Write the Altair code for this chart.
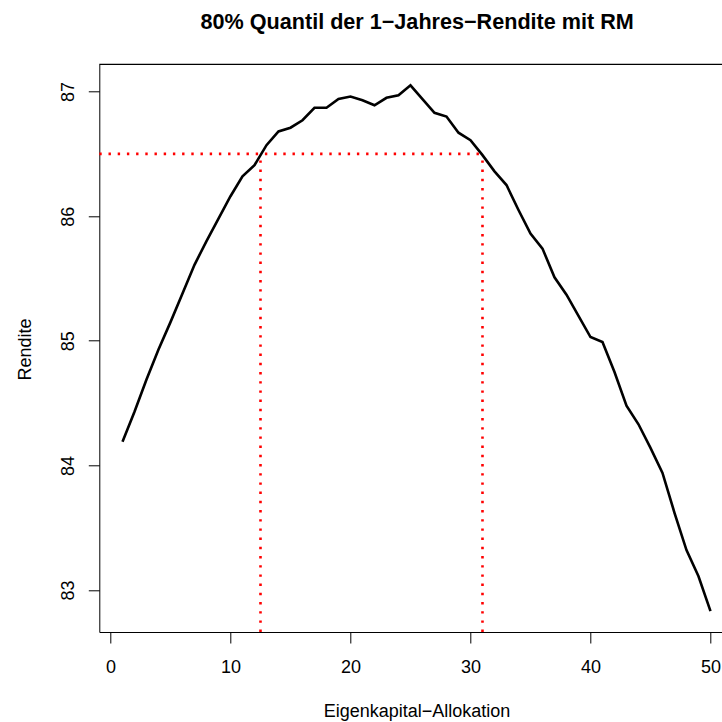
import altair as alt
import pandas as pd

# --- data ---
allocation = list(range(1, 51))
rendite = [84.19, 84.43, 84.69, 84.93, 85.15, 85.38, 85.61, 85.80, 85.98, 86.16,
           86.32, 86.41, 86.57, 86.68, 86.71, 86.77, 86.87, 86.87, 86.94, 86.96,
           86.93, 86.89, 86.95, 86.97, 87.05, 86.94, 86.83, 86.80, 86.67, 86.61,
           86.49, 86.36, 86.25, 86.05, 85.86, 85.74, 85.51, 85.37, 85.20, 85.03,
           84.99, 84.75, 84.48, 84.33, 84.14, 83.94, 83.62, 83.32, 83.11, 82.83]
threshold = [86.5]
crossings = [12.5, 31.0]
x_ticks = [0, 10, 20, 30, 40, 50]
y_ticks = [83, 84, 85, 86, 87]

X_DOMAIN = [-0.933, 50.96]
Y_DOMAIN = [82.663, 87.219]

FONT = "Liberation Sans"

df = pd.DataFrame({"x": allocation, "y": rendite})
h_df = pd.DataFrame({"x": [X_DOMAIN[0]], "x2": [max(crossings)], "y": threshold})
v_df = pd.DataFrame({"x": crossings, "y": [Y_DOMAIN[0]] * len(crossings),
                     "y2": threshold * len(crossings)})

xscale = alt.Scale(domain=X_DOMAIN, nice=False, zero=False)
yscale = alt.Scale(domain=Y_DOMAIN, nice=False, zero=False)

xaxis = alt.Axis(
    values=x_ticks, title="Eigenkapital\u2212Allokation", grid=False, format="d",
    tickSize=11, tickColor="#000", tickWidth=1,
    domainColor="#000", domainWidth=1,
    labelFont=FONT, labelFontSize=18, labelColor="#000",
    labelBaseline="alphabetic", labelPadding=29.5, labelAlign="center",
    titleFont=FONT, titleFontSize=18, titleFontWeight="normal", titleColor="#000",
    titleBaseline="alphabetic", titleAlign="center", titleX=317.2, titleY=84,
)
yaxis = alt.Axis(
    values=y_ticks, title="Rendite", grid=False, format="d",
    tickSize=11, tickColor="#000", tickWidth=1,
    domainColor="#000", domainWidth=1,
    labelFont=FONT, labelFontSize=18, labelColor="#000",
    labelAngle=270, labelAlign="center", labelBaseline="alphabetic", labelPadding=15,
    titleFont=FONT, titleFontSize=18, titleFontWeight="normal", titleColor="#000",
    titleAngle=270, titleBaseline="alphabetic", titleAlign="center",
    titleX=-69.3, titleY=284.7,
)

line = alt.Chart(df).mark_line(color="#000", strokeWidth=2.6).encode(
    x=alt.X("x:Q", scale=xscale, axis=xaxis),
    y=alt.Y("y:Q", scale=yscale, axis=yaxis),
)

hline = alt.Chart(h_df).mark_rule(color="#ff0000", strokeWidth=2.6,
                                   strokeDash=[2.4, 6.8]).encode(
    x=alt.X("x:Q", scale=xscale), x2="x2:Q", y=alt.Y("y:Q", scale=yscale)
)

vlines = alt.Chart(v_df).mark_rule(color="#ff0000", strokeWidth=2.6,
                                    strokeDash=[2.4, 6.8]).encode(
    x=alt.X("x:Q", scale=xscale), y=alt.Y("y:Q", scale=yscale), y2="y2:Q"
)

top_border = alt.Chart(pd.DataFrame({"y": [Y_DOMAIN[1]]})).mark_rule(
    color="#000", strokeWidth=1.2
).encode(y=alt.Y("y:Q", scale=yscale))

chart = alt.layer(line, hline, vlines, top_border).properties(
    width=622.7,
    height=567.7,
    autosize=alt.AutoSizeParams(type="none"),
    padding={"left": 99.3, "top": 64.3, "right": 0, "bottom": 90},
    title=alt.TitleParams(
        "80% Quantil der 1\u2212Jahres\u2212Rendite mit RM",
        font=FONT, fontSize=21.6, fontWeight="bold", color="#000",
        anchor="middle", dx=6.5, baseline="alphabetic", offset=13,
    ),
).configure_view(stroke=None)

chart.save("out.html", embed_options={"renderer": "svg", "actions": False})
